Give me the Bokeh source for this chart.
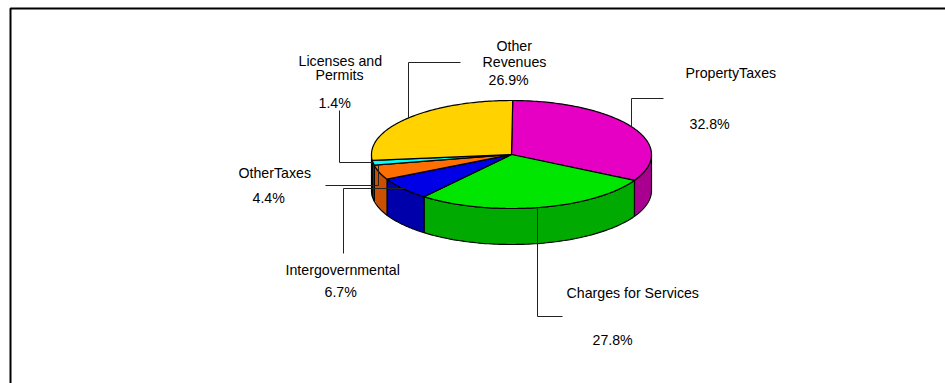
import numpy as np
from bokeh.embed import file_html
from bokeh.models import Range1d
from bokeh.plotting import figure
from bokeh.resources import INLINE
from bokeh.core.properties import value as fixed

# Revenue shares, clockwise from the top of the pie
categories = ["Property Taxes", "Charges for Services", "Intergovernmental",
              "Other Taxes", "Licenses and Permits", "Other Revenues"]
shares = [32.8, 27.8, 6.7, 4.4, 1.4, 26.9]
top_colors = ["#E600C3", "#00E600", "#0000E6", "#FF6E00", "#00FFFF", "#FFD200"]
side_colors = ["#AA0090", "#00AA00", "#0000AA", "#C85000", "#006060", "#B89800"]

# Pie geometry in page pixels
CX, CY, RX, RY, DEPTH = 511.0, 154.0, 140.0, 54.0, 36.0
START_ANGLE = 89.5

WIDTH, HEIGHT = 945, 383
p = figure(width=WIDTH, height=HEIGHT, output_backend="svg", toolbar_location=None,
           x_range=Range1d(0, WIDTH), y_range=Range1d(HEIGHT, 0),
           min_border=0, outline_line_color=None, background_fill_color="white",
           border_fill_color="white")
p.xaxis.visible = False
p.yaxis.visible = False
p.grid.visible = False

# Page frame: only the top and left edges fall inside the window
p.line([10, 10, WIDTH], [HEIGHT, 8, 8], line_color="black", line_width=2)


def rim(angles_deg, drop=0.0):
    a = np.radians(angles_deg)
    return CX + RX * np.cos(a), CY - RY * np.sin(a) + drop


edges = START_ANGLE - np.concatenate([[0.0], np.cumsum(shares)]) * 3.6

# Side walls: only the part of each slice on the near half of the rim shows
walls = []
for i in range(len(shares)):
    hi, lo = edges[i], edges[i + 1]
    hi_clip = min(hi, 0.0) if hi > -180 else hi
    lo_clip = max(lo, -180.0)
    if hi_clip > lo_clip:
        walls.append((i, hi_clip, lo_clip))
for i, hi, lo in walls:
    t = np.linspace(hi, lo, 80)
    x1, y1 = rim(t)
    x2, y2 = rim(t[::-1], DEPTH)
    p.patch(np.r_[x1, x2], np.r_[y1, y2], fill_color=side_colors[i],
            line_color="black", line_width=1.2)

# Top faces
for i in range(len(shares)):
    t = np.linspace(edges[i], edges[i + 1], 120)
    x, y = rim(t)
    p.patch(np.r_[CX, x], np.r_[CY, y], fill_color=top_colors[i],
            line_color="black", line_width=1.2)

# Leader lines from each label to its slice
leaders = [
    ([631, 631, 663], [126, 98, 98]),
    ([537, 537, 562], [208, 316, 316]),
    ([343, 343, 405], [253, 188, 188]),
    ([325, 378, 378], [185, 185, 165]),
    ([339, 339, 373], [110, 162, 162]),
    ([408, 408, 460], [118, 62, 62]),
]
for lx, ly in leaders:
    p.line(lx, ly, line_color="#222222", line_width=1)

# Labels: (text, left edge, vertical centre)
labels = [
    ("PropertyTaxes", 685, 72), ("32.8%", 689, 123),
    ("Charges for Services", 566, 292), ("27.8%", 592, 339),
    ("Intergovernmental", 285, 269), ("6.7%", 324, 291),
    ("OtherTaxes", 238, 172), ("4.4%", 252, 197),
    ("Licenses and", 298, 60), ("Permits", 315, 74), ("1.4%", 318, 102),
    ("Other", 496, 45), ("Revenues", 482, 61), ("26.9%", 488, 79),
]
p.text([l[1] for l in labels], [l[2] for l in labels], text=[l[0] for l in labels],
       text_font=fixed("Liberation Sans"), text_font_size="14.2px",
       text_color="black", text_align="left", text_baseline="middle")

open("out.html", "w").write(file_html(p, INLINE))
